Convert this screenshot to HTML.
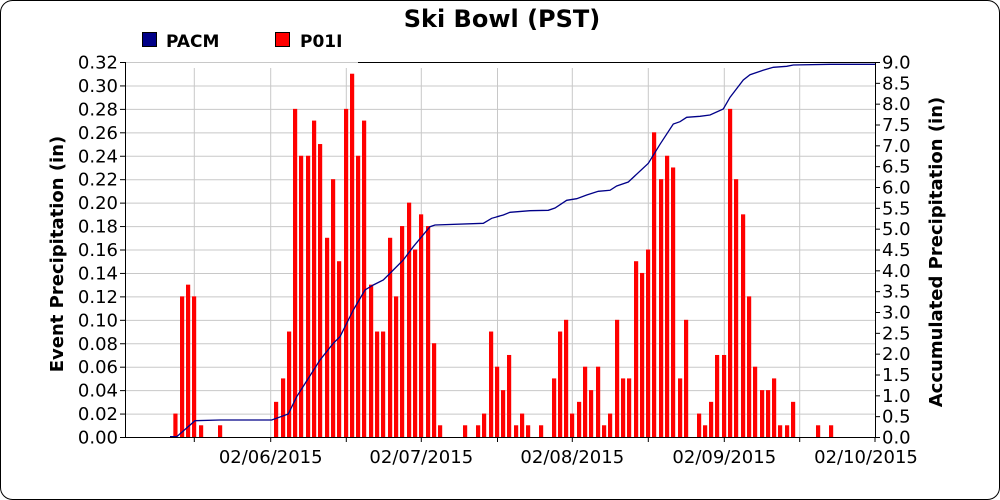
<!DOCTYPE html>
<html><head><meta charset="utf-8"><style>
html,body{margin:0;padding:0;background:#fff}
svg{display:block}
text{font-family:"DejaVu Sans",sans-serif}
</style></head><body>
<svg id="s" width="1000" height="500" xmlns="http://www.w3.org/2000/svg">
<rect x="0.5" y="0.5" width="999" height="499" rx="12" fill="#fff" stroke="#000"/>
<g id="grid" stroke="#c8c8c8" stroke-width="1"></g>
<g id="bars" fill="#ff0000"></g>
<polyline id="line" fill="none" stroke="#000088" stroke-width="1.3"/>
<g id="axes" stroke="#000" stroke-width="1"></g>
<g id="lab" font-size="18" fill="#000"></g>
<text x="502" y="27" font-size="24" font-weight="bold" text-anchor="middle">Ski Bowl (PST)</text>
<rect x="142.5" y="32.5" width="14" height="14" fill="#000088" stroke="#000"/>
<text x="166" y="47" font-size="17" font-weight="bold">PACM</text>
<rect x="275.5" y="32.5" width="14" height="14" fill="#ff0000" stroke="#000"/>
<text x="300" y="47" font-size="17" font-weight="bold">P01I</text>
<text transform="translate(63,254) rotate(-90)" font-size="18" font-weight="bold" text-anchor="middle">Event Precipitation (in)</text>
<text transform="translate(942,252) rotate(-90)" font-size="18" font-weight="bold" text-anchor="middle">Accumulated Precipitation (in)</text>
</svg>
<script>
var NS="http://www.w3.org/2000/svg";
function el(p,t,a,txt){var e=document.createElementNS(NS,t);for(var k in a)e.setAttribute(k,a[k]);if(txt!=null)e.textContent=txt;document.getElementById(p).appendChild(e);}
var L=125,R=875,T=62,B=437;
for(var i=1;i<=16;i++){var y=B-i*(B-T)/16;el("grid","line",{x1:L,x2:R,y1:y+0.5,y2:y+0.5});}
var vx=[194.3,270.7,346.3,421.3,497.5,572.3,648.3,724.3,799.7];
vx.forEach(function(x){el("grid","line",{x1:x,x2:x,y1:68,y2:B});});
var b1=[[160,2],[180,12],[198,13],[216,12],[237,1],[294,1],[462,3],[483,5],[501,9],[519,28],[537,24],[558,24],[576,27],[594,25],[615,17],[633,22],[651,15],[672,28],[690,31],[708,24],[726,27],[747,13],[765,9],[783,9],[804,17],[822,12],[840,18],[861,20],[879,16],[897,19],[918,18],[936,8],[954,1],[1029,1],[1068,1],[1086,2],[1107,9],[1125,6]];
var b2=[[33,4],[51,7],[72,1],[90,2],[108,1],[147,1],[186,5],[204,9],[222,10],[240,2],[261,3],[279,6],[297,4],[318,6],[336,1],[354,2],[375,10],[393,5],[411,5],[432,15],[450,14],[468,16],[486,26],[507,22],[525,24],[543,23],[564,5],[582,10],[621,2],[639,1],[657,3],[675,7],[696,7],[714,28],[732,22],[753,19],[771,12],[789,6],[810,4],[828,4],[846,5],[864,1],[885,1],[903,3],[978,1],[1017,1]];
function bar(x,v){var h=v/32*(B-T);el("bars","rect",{x:x,y:B-h,width:4.2,height:h});}
b1.forEach(function(b){bar(b[0]/3+120,b[1]);});
b2.forEach(function(b){bar(b[0]/3+490,b[1]);});
var p1=[[150,1160],[170,1160],[225,1112],[300,1110],[455,1110],[505,1092],[530,1040],[600,930],[640,880],[660,860],[700,780],[735,720],[760,705],[790,690],[820,660],[850,630],[880,590],[930,530],[945,525],[1090,520],[1115,505],[1140,498]];
var p2=[[20,500],[40,495],[60,487],[120,482],[175,481],[195,474],[230,451],[260,446],[290,435],[325,424],[360,421],[380,408],[415,396],[475,340],[510,283],[550,222],[570,215],[590,202],[630,199],[660,195],[700,177],[720,142],[760,90],[780,74],[815,62],[850,52],[890,49],[910,45],[1020,43],[1155,43]];
var pts=p1.map(function(p){return (p[0]/3+120).toFixed(1)+","+(p[1]/3+50).toFixed(1);}).concat(p2.map(function(p){return (p[0]/3+490).toFixed(1)+","+(p[1]/3+50).toFixed(1);}));
document.getElementById("line").setAttribute("points",pts.join(" "));
el("axes","line",{x1:L+0.5,x2:L+0.5,y1:T,y2:B+0.5});
el("axes","line",{x1:R+0.5,x2:R+0.5,y1:T,y2:B+0.5});
el("axes","line",{x1:L,x2:R+1,y1:B+0.5,y2:B+0.5});
el("axes","line",{x1:358,x2:R+1,y1:T+0.5,y2:T+0.5});
for(var i=0;i<=16;i++){var y=B-i*(B-T)/16;el("axes","line",{x1:L-5,x2:L,y1:y+0.5,y2:y+0.5});
 el("lab","text",{x:118,y:y+6.5,"text-anchor":"end"},(i*0.02).toFixed(2));}
for(var i=0;i<=18;i++){var y=B-i*(B-T)/18;el("axes","line",{x1:R,x2:R+5,y1:y+0.5,y2:y+0.5});
 el("lab","text",{x:882,y:y+6.5},(i*0.5).toFixed(1));}
vx.concat([R]).forEach(function(x){el("axes","line",{x1:x,x2:x,y1:B,y2:B+5});});
[[270.7,"02/06/2015"],[421.3,"02/07/2015"],[572.3,"02/08/2015"],[724.3,"02/09/2015"],[866,"02/10/2015"]].forEach(function(a){el("lab","text",{x:a[0],y:463,"text-anchor":"middle"},a[1]);});
</script>
</body></html>
